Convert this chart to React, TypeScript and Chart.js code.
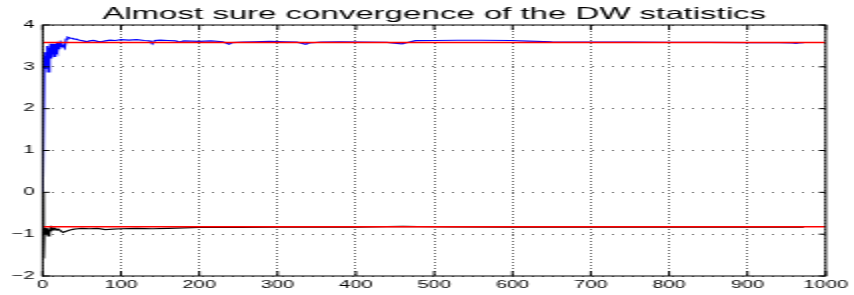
import React, { useEffect, useRef } from "react";
import { Chart, registerables } from "chart.js";

Chart.register(...registerables);

const titleText = "Almost sure convergence of the DW statistics";

const xTicks = [0, 100, 200, 300, 400, 500, 600, 700, 800, 900, 1000];
const yTicks = [-2, -1, 0, 1, 2, 3, 4];

const blueN = [
  0, 2, 3, 4, 5, 6, 7, 8, 9, 10, 11, 12, 13, 14, 15, 16, 17, 18, 19, 20, 21, 22, 23, 24, 26, 28, 30,
  32, 35, 38, 40, 43, 46, 49, 52, 56, 60, 65, 70, 75, 80, 86, 93, 100, 110, 120, 130, 137, 140, 143,
  150, 160, 170, 175, 180, 200, 215, 230, 238, 242, 255, 270, 290, 310, 325, 336, 340, 355, 380, 410,
  440, 452, 459, 466, 476, 500, 530, 560, 598, 620, 650, 700, 750, 800, 850, 900, 940, 955, 962, 966, 972,
];
const blueV = [
  0, 3.25, 2.95, 3.35, 3.05, 3.5, 2.88, 3.45, 3.15, 3.55, 3.2, 3.5, 3.3, 3.55, 3.25, 3.55, 3.4, 3.58,
  3.35, 3.52, 3.42, 3.58, 3.48, 3.56, 3.5, 3.45, 3.66, 3.71, 3.69, 3.68, 3.66, 3.66, 3.64, 3.63, 3.62,
  3.6, 3.62, 3.63, 3.61, 3.6, 3.62, 3.64, 3.63, 3.65, 3.64, 3.65, 3.63, 3.62, 3.55, 3.63, 3.64, 3.63,
  3.62, 3.59, 3.62, 3.61, 3.62, 3.6, 3.54, 3.58, 3.59, 3.6, 3.61, 3.6, 3.59, 3.54, 3.57, 3.59, 3.595,
  3.59, 3.585, 3.56, 3.55, 3.58, 3.625, 3.63, 3.635, 3.635, 3.63, 3.615, 3.6, 3.59, 3.59, 3.585, 3.585,
  3.58, 3.58, 3.575, 3.56, 3.575, 3.58,
];

const blackN = [
  0, 1, 2, 3, 4, 5, 6, 7, 8, 9, 10, 11, 12, 14, 16, 18, 20, 23, 26, 30, 35, 40, 45, 50, 60, 70, 80, 90,
  100, 120, 140, 160, 180, 200, 250, 300, 350, 400, 440, 460, 480, 520, 600, 700, 800, 900, 972,
];
const blackV = [
  0, -1.58, -0.85, -1.0, -0.88, -0.98, -0.86, -1.04, -0.9, -0.97, -0.87, -0.93, -0.85, -0.88, -0.86,
  -0.9, -0.88, -0.92, -0.96, -0.93, -0.9, -0.88, -0.87, -0.86, -0.87, -0.86, -0.89, -0.88, -0.87,
  -0.86, -0.87, -0.86, -0.85, -0.84, -0.84, -0.83, -0.835, -0.83, -0.82, -0.815, -0.82, -0.825, -0.83,
  -0.83, -0.83, -0.83, -0.83,
];

const limitN = [0, 1000];
const blueLimitV = [3.58, 3.58];
const blackLimitV = [-0.82, -0.82];

// horizontal stretch of the picture
const S = 2;
const W = 854 / S;
const H = 295;

const toPts = (xs: number[], ys: number[]) => xs.map((x, i) => ({ x, y: ys[i] }));

const framePlugin = {
  id: "matlabFrame",
  afterDatasetsDraw(chart: any) {
    const { ctx, chartArea, scales } = chart;
    const { left, right, top, bottom } = chartArea;
    ctx.save();
    ctx.strokeStyle = "#000";
    ctx.lineWidth = 1;
    ctx.setLineDash([]);
    ctx.strokeRect(left, top, right - left, bottom - top);
    ctx.beginPath();
    xTicks.forEach((v) => {
      const px = scales.x.getPixelForValue(v);
      ctx.moveTo(px, bottom);
      ctx.lineTo(px, bottom - 5);
      ctx.moveTo(px, top);
      ctx.lineTo(px, top + 5);
    });
    yTicks.forEach((v) => {
      const py = scales.y.getPixelForValue(v);
      ctx.moveTo(left, py);
      ctx.lineTo(left + 3.5, py);
      ctx.moveTo(right, py);
      ctx.lineTo(right - 3.5, py);
    });
    ctx.stroke();
    ctx.fillStyle = "#000";
    ctx.font = '16.5px "Liberation Sans", Arial, Helvetica, sans-serif';
    ctx.textAlign = "center";
    ctx.textBaseline = "alphabetic";
    ctx.fillText(titleText, (left + right) / 2, 18.5);
    ctx.restore();
  },
};

export default function App() {
  const ref = useRef<HTMLCanvasElement | null>(null);
  useEffect(() => {
    if (!ref.current) return;
    const font = { family: '"Liberation Sans", Arial, Helvetica, sans-serif', size: 10 };
    const chart = new Chart(ref.current, {
      type: "line",
      data: {
        datasets: [
          {
            label: "limit 1",
            data: toPts(limitN, blueLimitV),
            borderColor: "#ff0000",
            borderWidth: 1.5,
            pointRadius: 0,
            order: 0,
          },
          {
            label: "limit 2",
            data: toPts(limitN, blackLimitV),
            borderColor: "#ff0000",
            borderWidth: 1.5,
            pointRadius: 0,
            order: 0,
          },
          {
            label: "DW 1",
            data: toPts(blueN, blueV),
            borderColor: "#0000ff",
            borderWidth: 1.2,
            pointRadius: 0,
            order: 1,
          },
          {
            label: "DW 2",
            data: toPts(blackN, blackV),
            borderColor: "#000000",
            borderWidth: 1.2,
            pointRadius: 0,
            order: 1,
          },
        ],
      },
      options: {
        animation: false,
        responsive: false,
        devicePixelRatio: 1,
        layout: { padding: { top: 25, right: W - 414.5, left: 0, bottom: 0 } },
        plugins: { legend: { display: false }, tooltip: { enabled: false }, title: { display: false } },
        elements: { line: { tension: 0 } },
        scales: {
          x: {
            type: "linear",
            min: 0,
            max: 1000,
            afterBuildTicks: (scale: any) => {
              scale.ticks = xTicks.map((v) => ({ value: v }));
            },
            afterFit: (scale: any) => {
              scale.height = 19;
            },
            ticks: {
              font,
              color: "#000",
              padding: 3,
              maxRotation: 0,
              autoSkip: false,
              callback: (v: any) => String(v),
            },
            grid: { color: "#666", lineWidth: 1, drawTicks: false },
            border: { display: false, dash: [1, 2] },
          },
          y: {
            type: "linear",
            min: -2,
            max: 4,
            afterBuildTicks: (scale: any) => {
              scale.ticks = yTicks.map((v) => ({ value: v }));
            },
            afterFit: (scale: any) => {
              scale.width = 21.35;
            },
            ticks: {
              font,
              color: "#000",
              padding: 4,
              callback: (v: any) => (Number(v) < 0 ? "\u2212" + Math.abs(Number(v)) : String(v)),
            },
            grid: { color: "#666", lineWidth: 1, drawTicks: false },
            border: { display: false, dash: [1, 4] },
          },
        },
      },
      plugins: [framePlugin],
    });
    return () => chart.destroy();
  }, []);
  return (
    <div style={{ position: "absolute", left: 0, top: 0, width: 854, height: 295, background: "#fff" }}>
      <canvas
        ref={ref}
        width={W}
        height={H}
        style={{ width: "854px", height: "295px", display: "block" }}
      />
    </div>
  );
}
